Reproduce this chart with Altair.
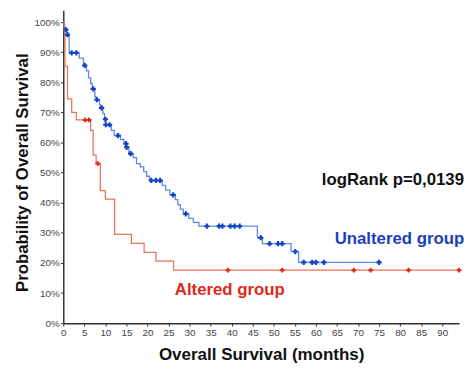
import altair as alt
import pandas as pd

# Kaplan-Meier step curves (months, % survival)
unaltered_time = [0, 0.3, 0.9, 1.4, 3.8, 4.8, 5.5, 6.0, 6.5, 6.9, 7.5, 7.8, 8.6, 8.9, 9.4, 9.8,
                  10.05, 11.4, 12.1, 13.6, 14.4, 15.0, 15.6, 16.6, 17.4, 18.3, 19.1, 19.8, 20.5,
                  23.5, 24.3, 25.3, 26.6, 27.2, 27.8, 28.5, 29.8, 30.9, 32.2, 46.1, 47.3, 54.1,
                  55.9, 75.0]
unaltered_surv = [100, 97.5, 95.8, 89.8, 88.0, 85.6, 83.8, 81.5, 79.6, 77.8, 75.2, 74.2, 72.6, 71.5,
                  69.6, 67.7, 65.9, 64.0, 62.3, 61.0, 59.6, 58.4, 56.3, 55.0, 53.0, 51.9, 50.3, 48.8,
                  47.4, 45.8, 44.2, 42.6, 41.0, 39.4, 37.9, 36.3, 34.8, 33.5, 32.2, 28.4, 26.4, 23.8,
                  20.2, 20.2]
unaltered_cens_time = [0.6, 1.0, 2.0, 3.1, 5.1, 7.1, 8.0, 9.1, 10.0, 10.1, 11.0, 13.0, 14.9, 15.05,
                       16.0, 20.9, 22.0, 23.0, 26.1, 29.1, 34.1, 37.0, 37.8, 39.7, 40.7, 41.9, 46.9,
                       49.0, 51.0, 52.0, 55.1, 57.1, 59.1, 60.0, 61.9, 75.0]
unaltered_cens_surv = [97.5, 95.8, 89.8, 89.8, 85.6, 77.8, 74.2, 71.5, 67.7, 65.9, 65.9, 62.3, 59.6,
                       58.4, 56.3, 47.4, 47.4, 47.4, 42.6, 36.3, 32.2, 32.2, 32.2, 32.2, 32.2, 32.2,
                       28.4, 26.4, 26.4, 26.4, 23.8, 20.2, 20.2, 20.2, 20.2, 20.2]

altered_time = [0, 0.2, 0.4, 1.0, 2.0, 3.1, 6.5, 7.1, 7.8, 8.8, 10.0, 12.2, 16.2, 19.2, 22.0, 26.2, 94.0]
altered_surv = [100, 97.1, 85.3, 74.5, 70.0, 67.5, 64.0, 55.8, 53.0, 44.0, 41.2, 29.5, 26.5, 23.5,
                20.6, 17.6, 17.6]
altered_cens_time = [5.2, 6.1, 8.2, 39.1, 52.0, 69.0, 73.0, 82.0, 94.0]
altered_cens_surv = [67.5, 67.5, 53.0, 17.6, 17.6, 17.6, 17.6, 17.6, 17.6]

x_ticks = list(range(0, 91, 5))
y_ticks = list(range(0, 101, 10))

FONT = "Liberation Sans"
BLUE_LINE = "#5a8de0"
BLUE_MARK = "#1240c4"
RED_LINE = "#ec7457"
RED_MARK = "#dc2a1c"

df_u = pd.DataFrame({"t": unaltered_time, "s": unaltered_surv})
df_a = pd.DataFrame({"t": altered_time, "s": altered_surv})
df_uc = pd.DataFrame({"t": unaltered_cens_time, "s": unaltered_cens_surv})
df_ac = pd.DataFrame({"t": altered_cens_time, "s": altered_cens_surv})

xs = alt.Scale(domain=[0, 94], nice=False, zero=False)
ys = alt.Scale(domain=[0, 103.9], nice=False)

x_axis = alt.Axis(values=x_ticks, title="Overall Survival (months)", grid=False,
                  labelFontSize=10, labelColor="#444", labelPadding=1, tickSize=3,
                  labelOverlap=False, labelBound=False, labelFlush=False,
                  domainColor="#333", tickColor="#333", domainWidth=1.5,
                  titleFontSize=17.2, titleFontWeight="bold", titleColor="#111",
                  titleBaseline="alphabetic", titleY=37, labelFont=FONT, titleFont=FONT)
y_axis = alt.Axis(values=y_ticks, title="Probability of Overall Survival", grid=False,
                  labelExpr="datum.value + '%'", labelFontSize=10, labelColor="#444",
                  labelOverlap=False, labelBound=False, labelFlush=False,
                  labelPadding=1, tickSize=3, domainColor="#333", tickColor="#333",
                  domainWidth=1.5, titleFontSize=17, titleFontWeight="bold", titleColor="#111",
                  titleBaseline="alphabetic", titleAngle=270, titleX=-36, titleY=164,
                  titleAlign="center", labelFont=FONT, titleFont=FONT)

line_u = alt.Chart(df_u).mark_line(interpolate="step-after", color=BLUE_LINE, strokeWidth=1.3).encode(
    x=alt.X("t:Q", scale=xs, axis=x_axis), y=alt.Y("s:Q", scale=ys, axis=y_axis))
line_a = alt.Chart(df_a).mark_line(interpolate="step-after", color=RED_LINE, strokeWidth=1.3).encode(
    x=alt.X("t:Q", scale=xs, axis=x_axis), y=alt.Y("s:Q", scale=ys, axis=y_axis))
pts_u = alt.Chart(df_uc).mark_point(shape="cross", filled=True, color=BLUE_MARK, size=28, opacity=1).encode(
    x=alt.X("t:Q", scale=xs, axis=x_axis), y=alt.Y("s:Q", scale=ys, axis=y_axis))
pts_a = alt.Chart(df_ac).mark_point(shape="cross", filled=True, color=RED_MARK, size=24, opacity=1).encode(
    x=alt.X("t:Q", scale=xs, axis=x_axis), y=alt.Y("s:Q", scale=ys, axis=y_axis))

def label(txt, px, py, color):
    return alt.Chart(pd.DataFrame({"a": [0]})).mark_text(
        text=txt, font=FONT, fontSize=17, fontWeight="bold", color=color,
        align="left", baseline="alphabetic").encode(x=alt.value(px), y=alt.value(py))

t1 = label("logRank p=0,0139", 262, 177, "#111")
t2 = label("Unaltered group", 275, 237, "#1c3fbc")
t3 = label("Altered group", 113, 288, "#dc2a1c")

chart = alt.layer(line_u, line_a, pts_u, pts_a, t1, t2, t3).properties(
    width=401, height=317,
    autosize=alt.AutoSizeParams(type="none"),
    padding={"left": 56, "top": 0, "right": 5, "bottom": 39},
).configure_view(stroke=None).configure_axis(labelOverlap=False)

chart.save("out.html", embed_options={"renderer": "svg", "actions": False})
